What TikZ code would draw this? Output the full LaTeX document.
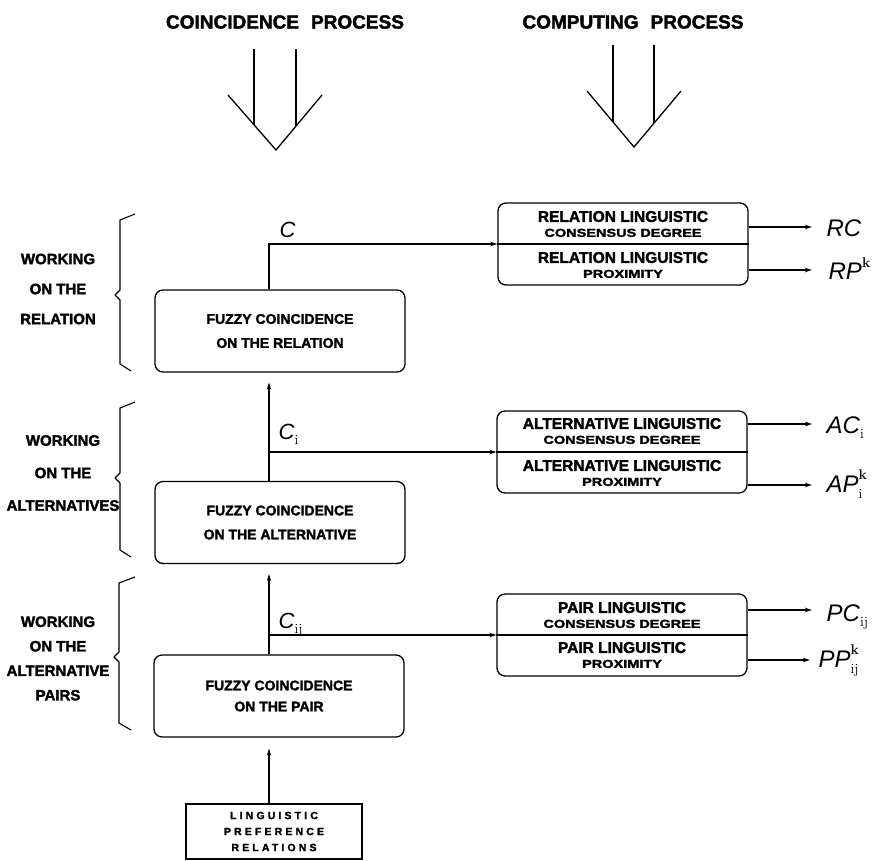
\documentclass[tikz,border=0pt]{standalone}
\usepackage{fontspec}
\usepackage{graphicx}
\newfontfamily\hv[BoldFeatures={FakeBold=2}]{Liberation Sans}
\newfontfamily\hvsp[LetterSpace=30,BoldFeatures={FakeBold=2}]{Liberation Sans}
\usetikzlibrary{arrows.meta,calc}
\newcommand\mySub[1]{\raisebox{-5pt}{\fontsize{14}{14}\selectfont\rmfamily\upshape\mdseries #1}}
\newcommand\mySup[1]{\raisebox{12pt}{\fontsize{14}{14}\selectfont\rmfamily\upshape\bfseries #1}}
\newcommand\mySS[2]{\makebox[0pt][l]{\raisebox{13pt}{\fontsize{14}{14}\selectfont\rmfamily\upshape\bfseries #1}}\raisebox{-6pt}{\fontsize{14}{14}\selectfont\rmfamily\upshape\mdseries #2}}
\newcommand\lowline[1]{\scalebox{1}[0.8]{\fontsize{14.5}{15}\selectfont #1}}
\begin{document}
\begin{tikzpicture}[x=1pt,y=-1pt,line width=1.3pt,
  lbox/.style={draw,rounded corners=8pt,minimum width=250pt,minimum height=82pt,inner sep=0pt,align=center,
    font=\hv\bfseries\fontsize{14}{24}\selectfont},
  rbox/.style={draw,rounded corners=8pt,minimum width=250pt,minimum height=82pt,inner sep=0pt},
  comp/.style={inner sep=0pt,align=center,font=\hv\bfseries\fontsize{15.5}{15}\selectfont},
  title/.style={font=\hv\bfseries\fontsize{19}{19}\selectfont,inner sep=0pt},
  side/.style={align=center,inner sep=0pt},
  outlab/.style={anchor=base west,inner sep=0pt,font=\hv\itshape\fontsize{24}{24}\selectfont},
  clab/.style={anchor=base west,inner sep=0pt,font=\hv\itshape\fontsize{22}{22}\selectfont},
  arr/.style={-{Stealth[length=7pt,width=4.5pt]}},
  brace/.style={line width=1.1pt,line join=round}
]
\useasboundingbox (0,0) rectangle (875,860);

% titles
\node[title] (t1) at (285,22) {COINCIDENCE\hspace{12pt}PROCESS};
\node[title] (t2) at (633,22) {COMPUTING\hspace{12pt}PROCESS};

% open arrows under titles
\draw (254,49) -- (254,125);
\draw (296,49) -- (296,126);
\draw (228,95) -- (276,150) -- (322,95);
\draw (613,45) -- (613,122);
\draw (654,45) -- (654,123);
\draw (587,91) -- (634,147) -- (681,91);

% left boxes
\node[lbox] (b1) at (280,331) {FUZZY COINCIDENCE\\ON THE RELATION};
\node[lbox] (b2) at (280,522.5) {FUZZY COINCIDENCE\\ON THE ALTERNATIVE};
\node[lbox,font=\hv\bfseries\fontsize{14}{21}\selectfont] (b3) at (279,696) {FUZZY COINCIDENCE\\ON THE PAIR};
\node[draw,minimum width=176pt,minimum height=55pt,inner sep=0pt,align=center,
  font=\hvsp\bfseries\fontsize{10.5}{16}\selectfont] (lpr) at (274,831.5) {LINGUISTIC\\PREFERENCE\\RELATIONS};

% right boxes
\node[rbox] (r1) at (623,244) {};
\node[rbox] (r2) at (622,452) {};
\node[rbox] (r3) at (622,635) {};
\draw (r1.west) -- (r1.east);
\draw (r2.west) -- (r2.east);
\draw (r3.west) -- (r3.east);
\node[comp] (r1a) at (623,224) {RELATION LINGUISTIC\\\lowline{CONSENSUS DEGREE}};
\node[comp] (r1b) at (623,265) {RELATION LINGUISTIC\\\lowline{PROXIMITY}};
\node[comp] (r2a) at (622,431) {ALTERNATIVE LINGUISTIC\\\lowline{CONSENSUS DEGREE}};
\node[comp] (r2b) at (622,473) {ALTERNATIVE LINGUISTIC\\\lowline{PROXIMITY}};
\node[comp] (r3a) at (622,615) {PAIR LINGUISTIC\\\lowline{CONSENSUS DEGREE}};
\node[comp] (r3b) at (622,655) {PAIR LINGUISTIC\\\lowline{PROXIMITY}};

% output labels
\node[outlab] (rc) at (826,236) {RC};
\node[outlab] (rp) at (828,279) {RP\mySup{k}};
\node[outlab] (ac) at (826,433) {AC\mySub{i}};
\node[outlab] (ap) at (826,492) {AP\mySS{k}{i}};
\node[outlab] (pc) at (826,621) {PC\mySub{ij}};
\node[outlab] (pp) at (818,667) {PP\mySS{k}{ij}};

% output arrows
\draw[arr,shorten >=14pt] (r1.east |- 0,227) -- (rc.west |- 0,227);
\draw[arr,shorten >=16pt] (r1.east |- 0,270) -- (rp.west |- 0,270);
\draw[arr,shorten >=14pt] (r2.east |- 0,424) -- (ac.west |- 0,424);
\draw[arr,shorten >=14pt] (r2.east |- 0,485) -- (ap.west |- 0,485);
\draw[arr,shorten >=14pt] (r3.east |- 0,610) -- (pc.west |- 0,610);
\draw[arr,shorten >=8pt] (r3.east |- 0,660) -- (pp.west |- 0,660);

% vertical flow
\coordinate (v) at (269,0);
\draw[arr] (v |- b1.north) |- (r1.west);
\draw[arr] (v |- b2.north) |- (r2.west);
\draw[arr] (v |- b3.north) |- (r3.west);
\draw[arr,shorten >=10pt] (v |- b2.north) -- (v |- b1.south);
\draw[arr,shorten >=10pt] (v |- b3.north) -- (v |- b2.south);
\draw[arr,shorten >=11pt] (v |- lpr.north) -- (v |- b3.south);

% C labels
\node[clab] (c0) at (279,237) {C};
\node[clab] (c1) at (278,439) {C\mySub{i}};
\node[clab] (c2) at (278,628) {C\mySub{ij}};

% braces
\draw[brace] (135,214) -- (120,220) -- (120,290) -- (115,295) -- (120,300) -- (120,364) -- (131,371);
\draw[brace] (135,402) -- (120,408) -- (120,473) -- (115,478) -- (120,483) -- (120,550) -- (131,557);
\draw[brace] (135,577) -- (119,583) -- (119,652) -- (114,657) -- (119,662) -- (119,723) -- (131,730);

% side labels
\node[side,font=\hv\bfseries\fontsize{15}{30}\selectfont] (s1) at (58,289) {WORKING\\ON THE\\RELATION};
\node[side,font=\hv\bfseries\fontsize{15}{32.5}\selectfont] (s2) at (63,473) {WORKING\\ON THE\\ALTERNATIVES};
\node[side,font=\hv\bfseries\fontsize{15}{24.5}\selectfont] (s3) at (58,658.5) {WORKING\\ON THE\\ALTERNATIVE\\PAIRS};
\end{tikzpicture}
\end{document}
